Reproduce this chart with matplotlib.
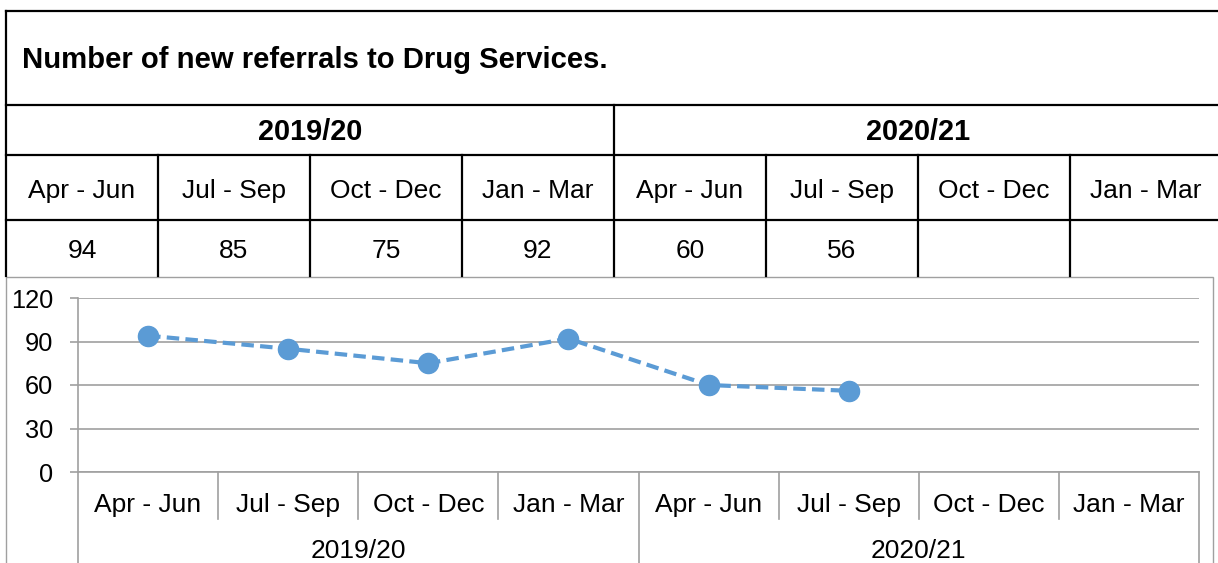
import matplotlib
matplotlib.use('Agg')
import matplotlib.pyplot as plt
import matplotlib.transforms as mtransforms
from matplotlib.lines import Line2D
from matplotlib.patches import Rectangle
import numpy as np

# ---------------- data ----------------
title = "Number of new referrals to Drug Services."
years = ["2019/20", "2020/21"]
quarters = ["Apr - Jun", "Jul - Sep", "Oct - Dec", "Jan - Mar"]
values = [94, 85, 75, 92, 60, 56, None, None]
yticks = [0, 30, 60, 90, 120]

# ---------------- setup ----------------
plt.rcParams['font.family'] = ['Liberation Sans', 'DejaVu Sans']
W, H = 1218, 563
fig = plt.figure(figsize=(W / 100, H / 100), dpi=100)

GRAY = '#A0A0A0'
BLUE = '#5B9BD5'


def fx(px):
    return px / W


def fy(py):
    return 1 - py / H


def fline(x0, y0, x1, y1, color='black', lw=1.6):
    fig.add_artist(Line2D([fx(x0), fx(x1)], [fy(y0), fy(y1)],
                          transform=fig.transFigure, color=color, lw=lw,
                          solid_capstyle='projecting'))


# ---------------- table ----------------
T_LEFT, COLW = 6, 152
n_cols = len(years) * len(quarters)
col_edges = [T_LEFT + COLW * i for i in range(n_cols + 1)]
R_TOP, R_TITLE, R_YEAR, R_Q, R_BOT = 11, 105, 155, 220, 276

for yy in (R_TOP, R_TITLE, R_YEAR, R_Q):
    fline(T_LEFT, yy, W + 5, yy)
fline(T_LEFT, R_TOP, T_LEFT, R_BOT)
fline(col_edges[len(quarters)], R_TITLE, col_edges[len(quarters)], R_BOT)
for i, xe in enumerate(col_edges[1:-1], start=1):
    if i % len(quarters) != 0:
        fline(xe, R_YEAR, xe, R_BOT)

fig.text(fx(22), fy(68), title, fontsize=21.1, fontweight='bold',
         ha='left', va='baseline')
for gi, yr in enumerate(years):
    cx = (col_edges[gi * 4] + col_edges[gi * 4 + 4]) / 2
    fig.text(fx(cx), fy(140), yr, fontsize=20.8, fontweight='bold',
             ha='center', va='baseline')
for i in range(n_cols):
    cx = (col_edges[i] + col_edges[i + 1]) / 2
    fig.text(fx(cx), fy(198), quarters[i % 4], fontsize=19,
             ha='center', va='baseline')
    v = values[i]
    if v is not None:
        fig.text(fx(cx), fy(258), str(v), fontsize=19,
                 ha='center', va='baseline')

# chart frame
fig.add_artist(Rectangle((fx(6), fy(H + 5)), fx(1213) - fx(6), fy(277) - fy(H + 5),
                         transform=fig.transFigure, fill=False,
                         edgecolor=GRAY, lw=1.0))

# ---------------- chart ----------------
AX_L, AX_R, AX_T, AX_B = 78, 1199, 298, 472
ax = fig.add_axes([fx(AX_L), fy(AX_B), fx(AX_R) - fx(AX_L), fy(AX_T) - fy(AX_B)])
x = np.arange(n_cols) + 0.5
y = np.array([np.nan if v is None else v for v in values], dtype=float)
ax.plot(x, y, color=BLUE, lw=3, ls=(0, (3, 1.5)), marker='o', ms=14.5,
        zorder=3, clip_on=False)
ax.set_xlim(0, n_cols)
ax.set_ylim(min(yticks), max(yticks))
ax.set_yticks(yticks)
ax.set_xticks([])
ax.yaxis.grid(True, color=GRAY, lw=1.2)
ax.set_axisbelow(True)
ax.tick_params(axis='y', length=6, width=1.2, color=GRAY, labelsize=18.3, pad=12)
for s in ('top', 'right'):
    ax.spines[s].set_visible(False)
for s in ('left', 'bottom'):
    ax.spines[s].set_color(GRAY)
    ax.spines[s].set_linewidth(1.2)

ax_h = AX_B - AX_T
trans = mtransforms.blended_transform_factory(ax.transData, ax.transAxes)
for i in range(n_cols + 1):
    bottom = (AX_B - 570) / ax_h if i % 4 == 0 else (AX_B - 519) / ax_h
    ax.add_line(Line2D([i, i], [0, bottom], transform=trans, color=GRAY,
                       lw=1.2, clip_on=False))
for i in range(n_cols):
    ax.text(x[i], (AX_B - 512) / ax_h, quarters[i % 4], transform=trans,
            ha='center', va='baseline', fontsize=19)
for gi, yr in enumerate(years):
    ax.text(gi * 4 + 2, (AX_B - 558) / ax_h, yr, transform=trans,
            ha='center', va='baseline', fontsize=19)

fig.savefig('out.png', dpi=100)
